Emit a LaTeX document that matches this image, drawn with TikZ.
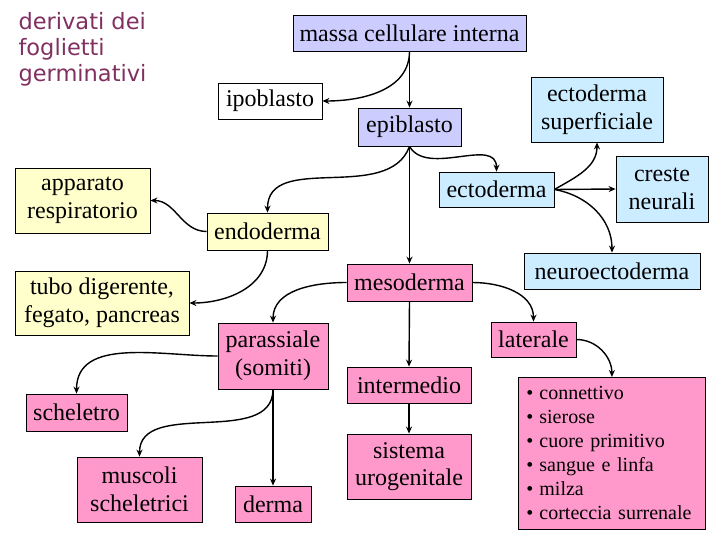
\documentclass[tikz,border=0pt]{standalone}
\usepackage{fontspec}
\setmainfont{Liberation Serif}
\newfontfamily\titlefont{DejaVu Sans}
\usetikzlibrary{arrows.meta}
\definecolor{lilla}{HTML}{CCCCFF}
\definecolor{celeste}{HTML}{CCECFF}
\definecolor{giallo}{HTML}{FFFFCC}
\definecolor{rosa}{HTML}{FF99CC}
\definecolor{titolo}{HTML}{803060}
\tikzset{
  box/.style={draw, line width=0.8pt, inner sep=0pt, align=center, font=\fontsize{24}{27.6}\selectfont},
  freccia/.style={line width=1.4pt, -{Stealth[length=7pt,width=6pt]}},
}
\begin{document}
\begin{tikzpicture}[x=1pt,y=1pt]
	\useasboundingbox (0,0) rectangle (720,-540);
	% titolo
	\node [anchor=north west, align=left, text=titolo, font=\titlefont\fontsize{22.5}{26}\selectfont] (titolo) at (15,-9) {derivati dei\\foglietti\\germinativi};

	% blastocisti
	\node [box, fill=lilla, minimum width=233pt, minimum height=36pt] (massa) at (409.5,-33) {massa cellulare interna};
	\node [box, fill=white, minimum width=104pt, minimum height=36pt] (ipo) at (270,-101) {ipoblasto};
	\node [box, fill=lilla, minimum width=103pt, minimum height=38pt] (epi) at (409.5,-127) {epiblasto};

	% ectoderma
	\node [box, fill=celeste, minimum width=115pt, minimum height=35pt] (ecto) at (496.5,-189.5) {ectoderma};
	\node [box, fill=celeste, minimum width=132pt, minimum height=65pt] (ectosup) at (597,-109.5) {ectoderma\\superficiale};
	\node [box, fill=celeste, minimum width=92pt, minimum height=66pt] (creste) at (662,-189) {creste\\neurali};
	\node [box, fill=celeste, minimum width=176pt, minimum height=36pt] (neuro) at (612,-271) {neuroectoderma};

	% endoderma
	\node [box, fill=giallo, minimum width=121pt, minimum height=37pt] (endo) at (267.5,-231.5) {endoderma};
	\node [box, fill=giallo, minimum width=135pt, minimum height=65pt] (resp) at (82.5,-200.5) {apparato\\respiratorio};
	\node [box, fill=giallo, minimum width=174pt, minimum height=64pt] (tubo) at (102,-303) {tubo digerente,\\fegato, pancreas};

	% mesoderma
	\node [box, fill=rosa, minimum width=125pt, minimum height=37pt] (meso) at (409.5,-282.5) {mesoderma};
	\node [box, fill=rosa, minimum width=110pt, minimum height=66pt] (paras) at (273,-356) {parassiale\\(somiti)};
	\node [box, fill=rosa, minimum width=124pt, minimum height=36pt] (inter) at (409,-385) {intermedio};
	\node [box, fill=rosa, minimum width=85pt, minimum height=35pt] (lat) at (533.5,-339.5) {laterale};
	\node [box, fill=rosa, minimum width=101pt, minimum height=37pt] (schel) at (76.5,-412.5) {scheletro};
	\node [box, fill=rosa, minimum width=125pt, minimum height=65pt] (musc) at (139.5,-489.5) {muscoli\\scheletrici};
	\node [box, fill=rosa, minimum width=76pt, minimum height=36pt] (derma) at (273,-504) {derma};
	\node [box, fill=rosa, minimum width=124pt, minimum height=65pt] (uro) at (409,-466.5) {sistema\\urogenitale};
	\node [box, fill=rosa, minimum width=187pt, minimum height=152pt, align=left, inner xsep=8pt, anchor=north west, text width=171pt, font=\fontsize{20}{24}\selectfont] (lista) at (518,-377) {%
		\textbullet\hspace{6pt}connettivo\\
		\textbullet\hspace{6pt}sierose\\
		\textbullet\hspace{6pt}cuore primitivo\\
		\textbullet\hspace{6pt}sangue e linfa\\
		\textbullet\hspace{6pt}milza\\
		\textbullet\hspace{6pt}corteccia surrenale};

	% frecce
	\draw [freccia] (massa.south) -- (epi.north);
	\draw [freccia] (massa.south) to [out=-90, in=0] (ipo.east);
	\draw [freccia] (epi.south) -- (meso.north);
	\draw [freccia] (epi.south) to [out=-110, in=90] (endo.north);
	\draw [freccia] (epi.south) to [out=-60, in=90] (ecto.north);
	\draw [freccia] (ecto.east) to [out=30, in=-90] (ectosup.south);
	\draw [freccia] (ecto.east) -- (creste.west);
	\draw [freccia] (ecto.east) to [out=-10, in=90] (neuro.north);
	\draw [freccia] (endo.west) to [out=180, in=0] (resp.east);
	\draw [freccia] (endo.south) to [out=-90, in=0] (tubo.east);
	\draw [freccia] (meso.west) to [out=180, in=90] (paras.north);
	\draw [freccia] (meso.east) to [out=0, in=90] (lat.north);
	\draw [freccia] (meso.south) -- (inter.north);
	\draw [freccia] (inter.south) -- (uro.north);
	\draw [freccia] (lat.east) to [out=0, in=90] (lista.north);
	\draw [freccia] (paras.west) to [out=180, in=90] (schel.north);
	\draw [freccia] (paras.south) to [out=-90, in=90] (musc.north);
	\draw [freccia] (paras.south) -- (derma.north);
\end{tikzpicture}
\end{document}
